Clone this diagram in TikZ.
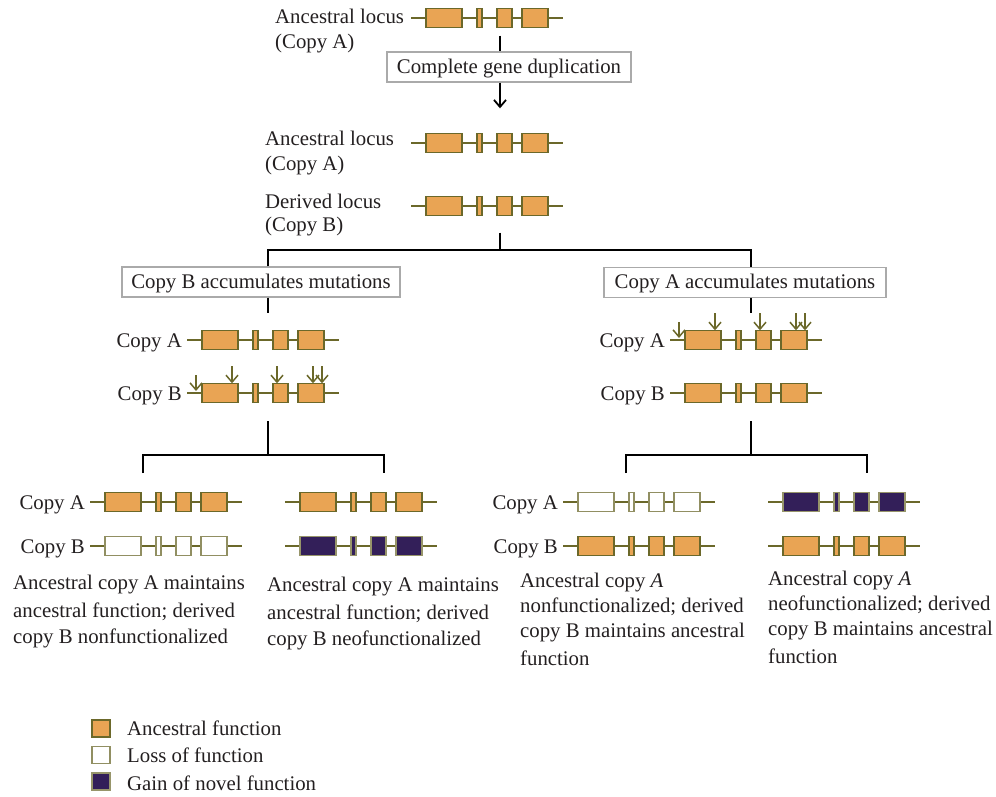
\documentclass[tikz,border=0pt]{standalone}
\usepackage{fontspec}
\setmainfont{Liberation Serif}
\usetikzlibrary{arrows.meta}
\definecolor{exon}{RGB}{233,164,84}
\definecolor{olive}{RGB}{107,104,42}
\definecolor{lost}{RGB}{145,143,98}
\definecolor{novel}{RGB}{51,31,89}
\definecolor{frame}{RGB}{170,170,170}
\definecolor{ink}{RGB}{35,31,32}

% one locus: line with four exons, #1 name, #2 left end, #3 exon style
\newcommand{\gene}[3]{%
  \node[inner sep=0pt,minimum width=152pt,minimum height=19pt,anchor=west] (#1) at (#2) {};
  \draw[gline] (#1.west) -- (#1.east);
  \foreach \a/\b in {15/51,66/71,86/101,111/137}
    \draw[#3] ([xshift=\a pt]#1.north west) rectangle ([xshift=\b pt]#1.south west);
}

\begin{document}
\begin{tikzpicture}[x=1pt,y=-1pt,
    gline/.style={draw=olive,line width=1.8pt},
    anc/.style={fill=exon,draw=olive,line width=1.3pt},
    loss/.style={fill=white,draw=lost,line width=1.3pt},
    gain/.style={fill=novel,draw=olive!70!white,line width=1.3pt},
    mut/.style={draw=olive,line width=1.5pt,-{Straight Barb[length=7pt,width=12pt]}},
    fork/.style={draw=black,line width=1.8pt},
    txt/.style={inner sep=0pt,text=ink,font=\fontsize{20.8}{26}\selectfont},
    box/.style={txt,draw=frame,line width=1.3pt,fill=white,minimum height=30pt,
        text height=15pt,text depth=3pt}]
    \useasboundingbox (0,0) rectangle (996,796);

    % ancestral locus and duplication
    \gene{g0}{411,18}{anc}
    \node[txt,anchor=base west] (l0) at (275,23) {Ancestral locus};
    \node[txt,anchor=base west] (l0b) at (275,48) {(Copy A)};
    \node[box,minimum width=244pt] (dup) at (509,67) {Complete gene duplication};
    \coordinate (t0) at (500,250);
    \draw[fork] ([yshift=-8pt]g0.south -| t0) -- (dup.north -| t0);

    % both copies
    \gene{gA0}{411,143}{anc}
    \gene{gB0}{411,206}{anc}
    \draw[fork,-{Straight Barb[length=7pt,width=12pt]}] (dup.south -| t0) -- ([yshift=25pt]gA0.north -| t0);
    \node[txt,anchor=base west] (l1) at (265,145) {Ancestral locus};
    \node[txt,anchor=base west] (l1b) at (265,170) {(Copy A)};
    \node[txt,anchor=base west] (l2) at (265,208) {Derived locus};
    \node[txt,anchor=base west] (l2b) at (265,231) {(Copy B)};

    \node[box,minimum width=278pt] (bL) at (261,282) {Copy B accumulates mutations};
    \node[box,minimum width=282pt] (bR) at (745,282.5) {Copy A accumulates mutations};
    \coordinate (t1) at (268,455);
    \coordinate (t2) at (751,455);
    \draw[fork] ([yshift=-17pt]gB0.south -| t0) -- (t0);
    \draw[fork] (bL.north -| t1) -- (t1 |- t0) -- (t2 |- t0) -- (bR.north -| t2);
    \draw[fork] (bL.south -| t1) -- ++(0,15);
    \draw[fork] (bR.south -| t2) -- ++(0,15);

    % mutated copies
    \gene{gA1}{187,340}{anc}
    \gene{gB1}{187,393}{anc}
    \gene{gA2}{670,340}{anc}
    \gene{gB2}{670,393}{anc}
    \foreach \g in {gB1,gA2}{%
        \draw[mut] ([shift={(9pt,18pt)}]\g.west) -- ([shift={(9pt,2pt)}]\g.west);
        \foreach \d in {45,90,126,135}
            \draw[mut] ([shift={(\d pt,17pt)}]\g.north west) -- ([xshift=\d pt]\g.north west);
    }

    % outcomes
    \foreach \g/\t/\l/\r in {gB1/t1/143/384,gB2/t2/626/867}{%
        \draw[fork] ([yshift=-18.5pt]\g.south -| \t) -- (\t);
        \draw[fork] (\l,473) -- (\l,455) -- (\r,455) -- (\r,473);
    }
    \gene{gA3}{90,502}{anc}   \gene{gB3}{90,546}{loss}
    \gene{gA4}{285,502}{anc}  \gene{gB4}{285,546}{gain}
    \gene{gA5}{563,502}{loss} \gene{gB5}{563,546}{anc}
    \gene{gA6}{768,502}{gain} \gene{gB6}{768,546}{anc}
    \foreach \g/\c in {gA1/A,gB1/B,gA2/A,gB2/B,gA3/A,gB3/B,gA5/A,gB5/B}
        \node[txt,anchor=base east] at ([shift={(-5pt,-7pt)}]\g.west) {Copy \c};

    % base anchor sits on the last line
    \node[txt,align=left,anchor=base west] (d1) at (13,643)
        {Ancestral copy A maintains\\[2pt]ancestral function; derived\\copy B nonfunctionalized};
    \node[txt,align=left,anchor=base west] (d2) at (267,645)
        {Ancestral copy A maintains\\[2pt]ancestral function; derived\\copy B neofunctionalized};
    \node[txt,align=left,anchor=base west] (d3) at (520,665)
        {Ancestral copy \textit{A}\\[-1pt]nonfunctionalized; derived\\[-1pt]copy B maintains ancestral\\[2pt]function};
    \node[txt,align=left,anchor=base west] (d4) at (768,663)
        {Ancestral copy \textit{A}\\[-1pt]neofunctionalized; derived\\[-1pt]copy B maintains ancestral\\[2pt]function};

    % legend
    \foreach \s/\t [count=\i] in {anc/Ancestral function,loss/Loss of function,gain/Gain of novel function}{%
        \draw[\s] (92,693.5+26.5*\i) rectangle ++(18,17);
        \node[txt,anchor=base west] (k\i) at (127,707.5+27.5*\i) {\t};
    }
\end{tikzpicture}
\end{document}
